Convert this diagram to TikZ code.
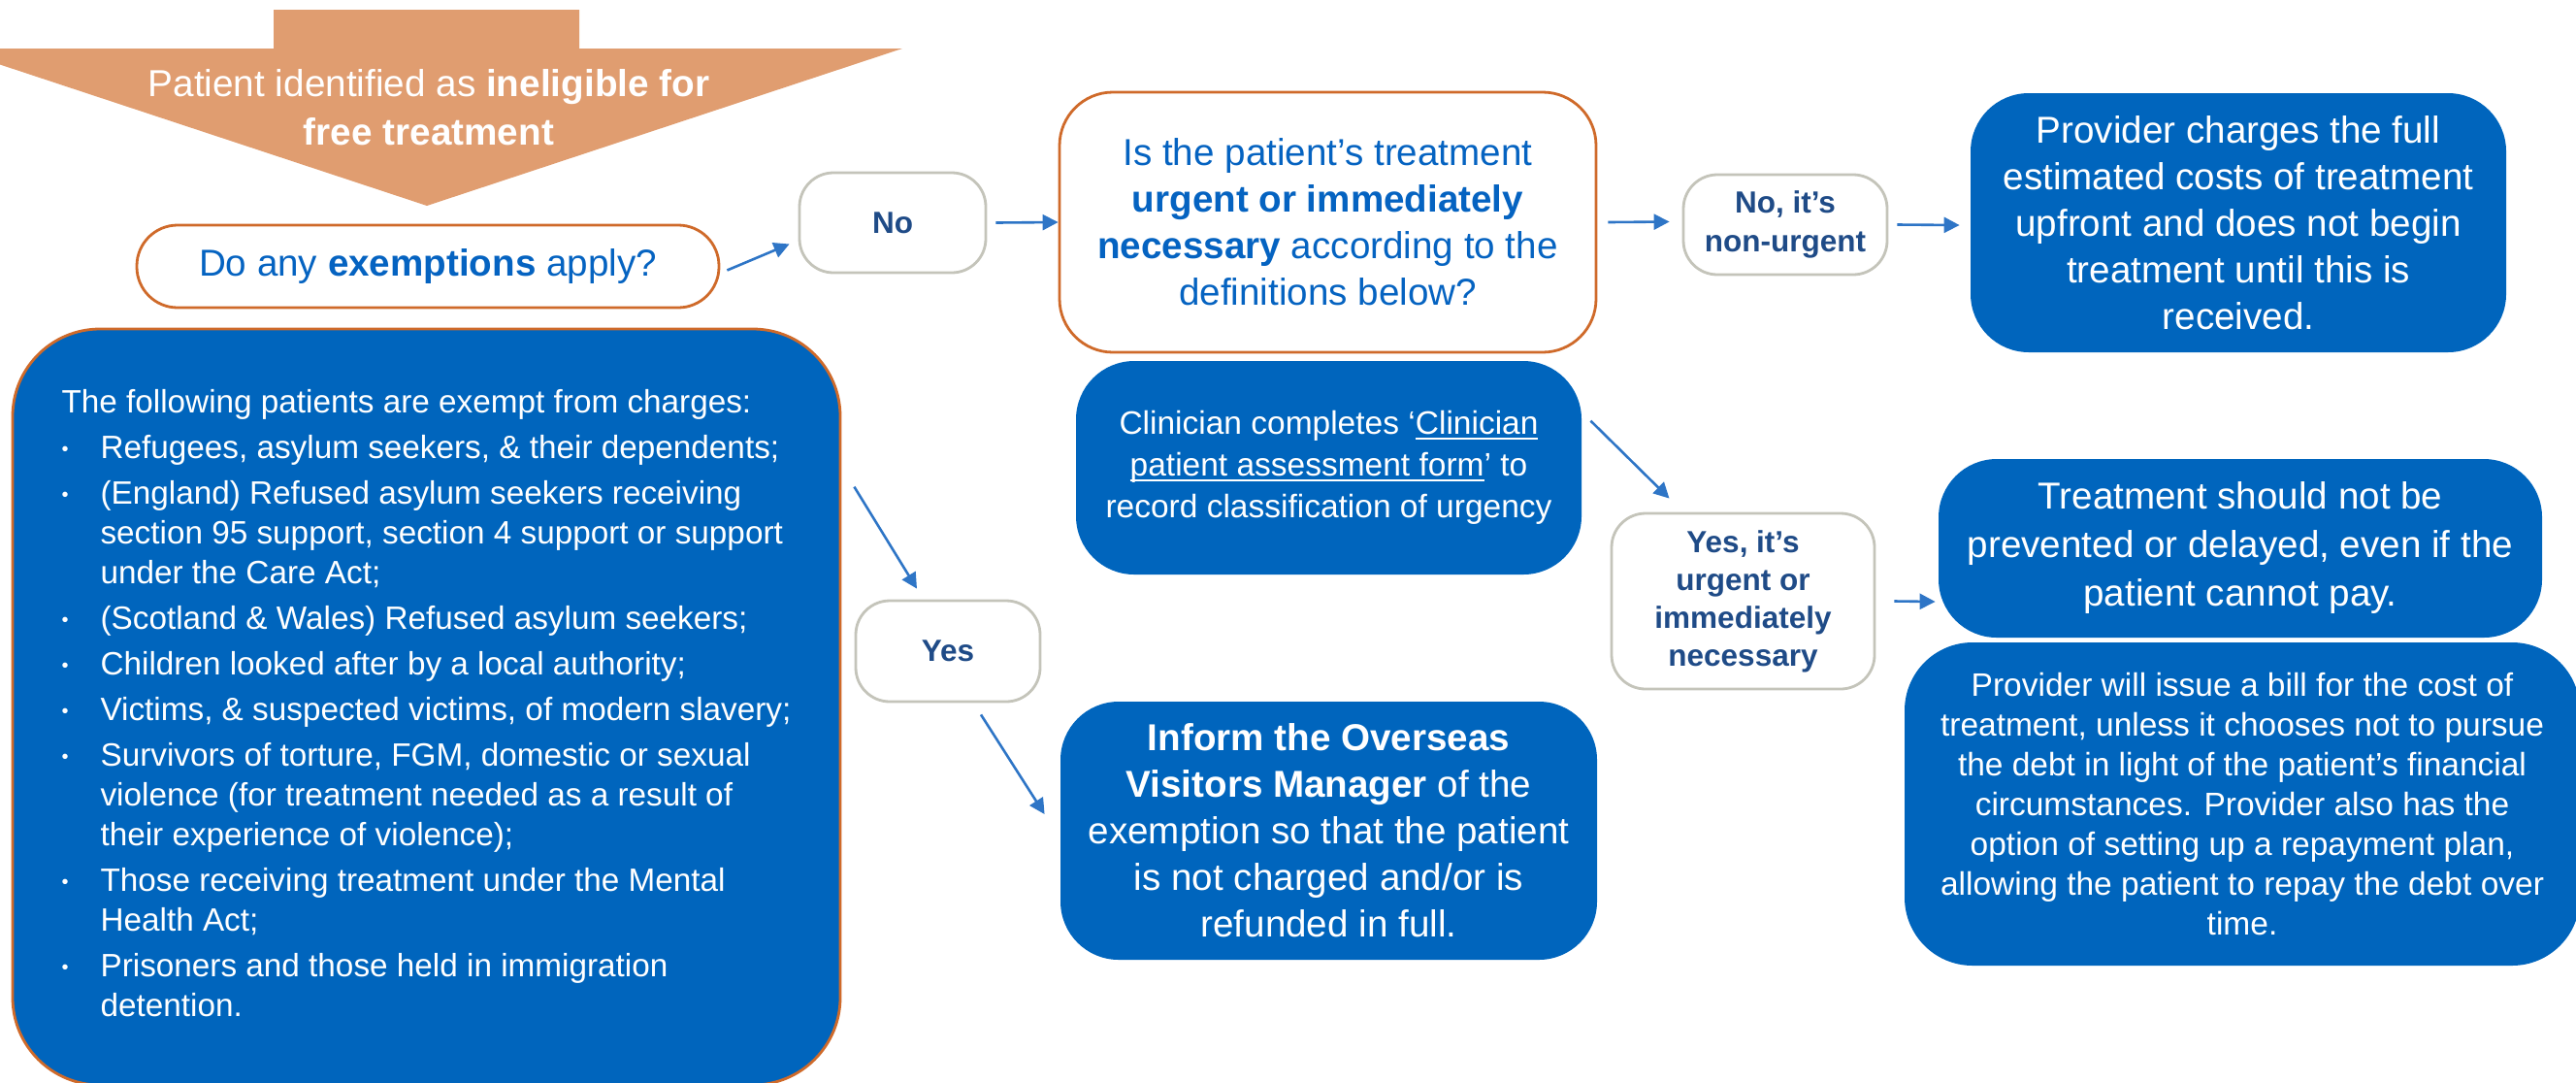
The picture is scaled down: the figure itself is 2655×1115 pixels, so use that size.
\documentclass[tikz,border=0pt]{standalone}
\usepackage{fontspec}
\setmainfont{Liberation Sans}
\usetikzlibrary{arrows.meta,calc}

\definecolor{headtan}{RGB}{224,157,112}
\definecolor{nhsblue}{RGB}{0,101,189}
\definecolor{rimorange}{RGB}{207,106,42}
\definecolor{rimgrey}{RGB}{196,196,186}
\definecolor{labelblue}{RGB}{31,75,135}
\definecolor{askblue}{RGB}{5,99,193}
\definecolor{linkblue}{RGB}{46,117,198}

\newcommand{\listdot}{\makebox[20pt][l]{\raisebox{1.5pt}{\scalebox{.6}{\textbullet}}}}
\newcommand{\formlink}[1]{\setbox0\hbox{#1}\rlap{\rule[-2.5pt]{\wd0}{0.8pt}}\box0}

\begin{document}
\begin{tikzpicture}[
        x=0.5pt, y=-0.5pt,
        choice/.style 2 args={draw=rimgrey,line width=1.4pt,fill=white,rounded corners=17.5pt,minimum width=#1,minimum height=#2,inner sep=0pt,align=center,text=labelblue,font=\bfseries\fontsize{15.75pt}{20pt}\selectfont},
        query/.style 2 args={draw=rimorange,line width=1.4pt,fill=white,minimum width=#1,minimum height=#2,inner sep=0pt,align=center,text=askblue,font=\fontsize{19.3pt}{24pt}\selectfont},
        outcome/.style 2 args={fill=nhsblue,rounded corners=30pt,minimum width=#1,minimum height=#2,inner sep=0pt,align=center,text=white,font=\fontsize{19.3pt}{24pt}\selectfont},
        flow/.style={draw=linkblue,line width=1.3pt,-{Triangle[length=8pt,width=8pt]}}
    ]
        \useasboundingbox (0,0) rectangle (2655,1115);

        \fill [headtan] (282,10) -- (597,10) -- (597,50) -- (930,50) -- (440,212) -- (-50,50) -- (282,50) -- cycle;
        \node [text=white,align=center,font=\fontsize{19.35pt}{25pt}\selectfont] (start) at (442,111) {Patient identified as \textbf{ineligible for}\\\textbf{free treatment}};

        \node [query={300pt}{42.5pt},rounded corners=21pt] (exemptq) at (441,274.5) {Do any \textbf{exemptions} apply?};
        \node [choice={96pt}{51.5pt}] (no) at (920,229.5) {No};
        \node [query={276.5pt}{134pt},rounded corners=27.5pt] (urgent) at (1368.5,229) {Is the patient’s treatment\\\textbf{urgent or immediately}\\\textbf{necessary} according to the\\definitions below?};
        \node [choice={105pt}{51.5pt}] (nonurgent) at (1840,231.5) {No, it’s\\non-urgent};
        \node [outcome={276pt}{133.5pt}] (upfront) at (2307,229.5) {Provider charges the full\\estimated costs of treatment\\upfront and does not begin\\treatment until this is\\received.};

        \node [outcome={260.5pt}{110pt},font=\fontsize{16.75pt}{21.5pt}\selectfont] (clinician) at (1369.5,482) {Clinician completes ‘\formlink{Clinician}\\\formlink{patient assessment form}’ to\\record classification of urgency};
        \node [choice={135.5pt}{90.5pt},font=\bfseries\fontsize{15.75pt}{19.5pt}\selectfont] (isurgent) at (1796.5,619.5) {Yes, it’s\\urgent or\\immediately\\necessary};
        \node [outcome={311pt}{92pt},font=\fontsize{19.3pt}{25pt}\selectfont] (nodelay) at (2309,565) {Treatment should not be\\prevented or delayed, even if the\\patient cannot pay.};
        \node [outcome={348pt}{166.5pt},rounded corners=35pt,font=\fontsize{16.75pt}{20.5pt}\selectfont] (bill) at (2311,828.5) {Provider will issue a bill for the cost of\\treatment, unless it chooses not to pursue\\the debt in light of the patient’s financial\\circumstances. Provider also has the\\option of setting up a repayment plan,\\allowing the patient to repay the debt over\\time.};

        \node [choice={95pt}{52pt}] (yes) at (977,671) {Yes};
        \node [outcome={276.5pt}{133pt}] (inform) at (1369.5,856) {\textbf{Inform the Overseas}\\\textbf{Visitors Manager} of the\\exemption so that the patient\\is not charged and/or is\\refunded in full.};

        \node [outcome={426.5pt}{389.5pt},draw=rimorange,line width=1.4pt,rounded corners=45pt,font=\fontsize{16.65pt}{20.5pt}\selectfont] (exempt) at (439.5,728.5) {%
            \begin{tabular}{@{}l@{}l@{}}
                \multicolumn{2}{@{}l@{}}{The following patients are exempt from charges:}\\[3pt]
                \listdot & Refugees, asylum seekers, \& their dependents;\\[3pt]
                \listdot & (England) Refused asylum seekers receiving\\
                         & section 95 support, section 4 support or support\\
                         & under the Care Act;\\[3pt]
                \listdot & (Scotland \& Wales) Refused asylum seekers;\\[3pt]
                \listdot & Children looked after by a local authority;\\[3pt]
                \listdot & Victims, \& suspected victims, of modern slavery;\\[3pt]
                \listdot & Survivors of torture, FGM, domestic or sexual\\
                         & violence (for treatment needed as a result of\\
                         & their experience of violence);\\[3pt]
                \listdot & Those receiving treatment under the Mental\\
                         & Health Act;\\[3pt]
                \listdot & Prisoners and those held in immigration\\
                         & detention.
            \end{tabular}};

        \draw [flow] ($(exemptq.east)+(7,4)$) -- ($(no.west)+(-9,22)$);
        \draw [flow] ([xshift=4.5pt]no.east) -- (urgent.west);
        \draw [flow] ([xshift=5.5pt]urgent.east) -- ($(nonurgent.west)+(-13,-3)$);
        \draw [flow] ([xshift=4.5pt]nonurgent.east) -- ($(upfront.west)+(-11,2.5)$);
        \draw [flow] ($(clinician.north east)+(9,62)$) -- ($(isurgent.north)+(-76,-14)$);
        \draw [flow] ([xshift=9.5pt]isurgent.east) -- ($(nodelay.west)+(-3,55)$);
        \draw [flow] ($(exempt.north east)+(13,164)$) -- ($(yes.north)+(-32,-11)$);
        \draw [flow] ($(yes.south)+(34,12)$) -- ($(inform.west)+(-16,-17)$);
    \end{tikzpicture}
\end{document}
